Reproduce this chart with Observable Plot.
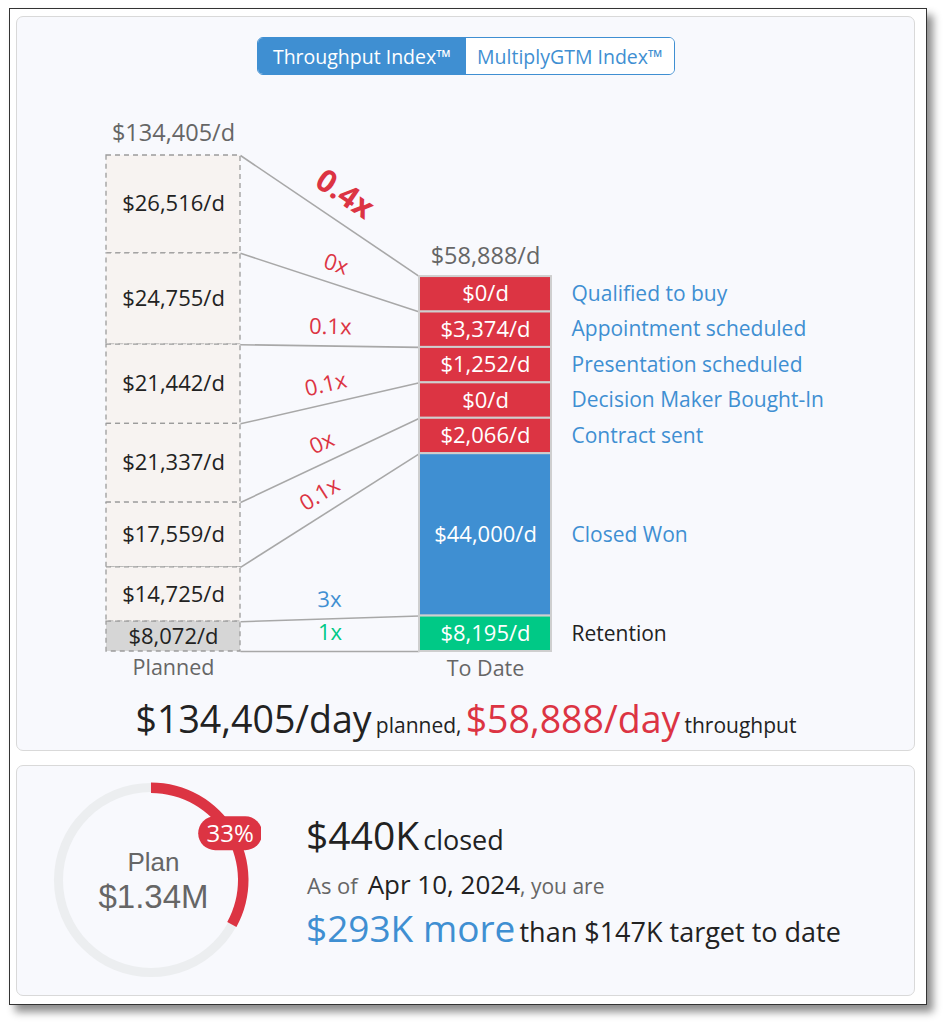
<!DOCTYPE html>
<html><head><meta charset="utf-8">
<script src="https://cdn.jsdelivr.net/npm/d3@7"></script>
<script src="https://cdn.jsdelivr.net/npm/@observablehq/plot@0.6"></script>
<style>
body{margin:0;background:#fff;font-family:"Open Sans",sans-serif;}
#page{position:relative;width:950px;height:1029px;overflow:hidden;background:#fff;}
#frame{position:absolute;left:9px;top:8px;width:916px;height:995px;border:1px solid #333;background:#fff;box-shadow:6px 7px 8px rgba(0,0,0,0.45);}
.card{position:absolute;left:16px;width:897px;border:1.5px solid #d9d9d9;border-radius:7px;background:#f8f9fd;}
#toggle{position:absolute;left:257px;top:37px;width:418px;height:38px;display:flex;border:1.5px solid #3f8fd2;border-radius:6px;overflow:hidden;box-sizing:border-box;font-size:19.5px;}
#toggle div{display:flex;align-items:center;justify-content:center;}
#t1{width:208px;background:#3f8fd2;color:#fff;}
#t2{flex:1;background:#fff;color:#3f8fd2;}
.abs{position:absolute;white-space:nowrap;}
#summary{left:16px;width:900px;top:693px;text-align:center;color:#222;}
.big{font-size:37.5px;}
.small{font-size:21px;}
</style></head>
<body><div id="page">
<div id="frame"></div>
<div class="card" style="top:16px;height:733px;"></div>
<div class="card" style="top:765px;height:229px;"></div>
<div id="toggle"><div id="t1"></div><div id="t2"></div></div>
<div id="chart" class="abs" style="left:16px;top:100px;"></div>
<div id="summary" class="abs"></div>
<div id="donut" class="abs" style="left:41px;top:770px;"></div>
<div id="closed" class="abs" style="left:306px;top:808px;color:#222;"></div>
<div id="asof" class="abs" style="left:307px;top:866px;color:#666;"></div>
<div id="ahead" class="abs" style="left:306px;top:902px;color:#222;"></div>
</div>
<script>
// ---------- data ----------
const tabs = ["Throughput Index™", "MultiplyGTM Index™"];
const stages = ["Qualified to buy","Appointment scheduled","Presentation scheduled","Decision Maker Bought-In","Contract sent","Closed Won","Retention"];
const kinds = ["open","open","open","open","open","won","retention"];
const plannedPerDay = [26516,24755,21442,21337,17559,14725,8072];
const toDatePerDay = [0,3374,1252,0,2066,44000,8195];
const ratioLabels = ["0x","0.1x","0.1x","0x","0.1x","3x","1x"];
const plannedTotal = 134405;
const toDateTotal = 58888;
const totalRatioLabel = "0.4x";
const columnTitles = ["Planned","To Date"];
const planAmount = "$1.34M";
const closedAmount = "$440K";
const percentOfPlan = 33;
const asOfDate = "Apr 10, 2024";
const aheadAmount = "$293K";
const targetToDate = "$147K";

// ---------- styles / layout ----------
const FONT = "Open Sans, sans-serif";
const RED = "#dc3443", BLUE = "#3f8fd2", GREEN = "#00c986";
const barFill = {open: RED, won: BLUE, retention: GREEN};
const planFill = {open: "#f7f3f1", won: "#f7f3f1", retention: "#d6d6d6"};
const labelFill = {open: BLUE, won: BLUE, retention: "#222"};
const X = {type: "linear", domain: [0, 445], range: [90, 535]};
const Y = {type: "linear", domain: [0, d3.sum(plannedPerDay)], range: [55, 551]};
const PLAN = [0, 134], DATE = [313, 445];
const MIN_SHOWN = 9600;

document.getElementById("t1").textContent = tabs[0];
document.getElementById("t2").textContent = tabs[1];

const fmt = d3.format(",");
const perDay = v => "$" + fmt(v) + "/d";

// stacks
const pb = [0]; plannedPerDay.forEach(v => pb.push(pb[pb.length-1] + v));
const shown = toDatePerDay.map(v => Math.max(v, MIN_SHOWN));
const tb = [d3.sum(plannedPerDay) - d3.sum(shown)]; shown.forEach(v => tb.push(tb[tb.length-1] + v));

const planRows = stages.map((s,i) => ({stage:s, kind:kinds[i], value:plannedPerDay[i], y1:pb[i], y2:pb[i+1]}));
const dateRows = stages.map((s,i) => ({stage:s, kind:kinds[i], value:toDatePerDay[i], y1:tb[i], y2:tb[i+1]}));
const links = pb.map((p,i) => ({y1:p, y2:tb[i]}));

const sx = Plot.scale({x: X}), sy = Plot.scale({y: Y});
function along(i, d) {
  const x1 = sx.apply(PLAN[1]), y1 = sy.apply(pb[i]), x2 = sx.apply(DATE[0]), y2 = sy.apply(tb[i]);
  const th = Math.atan2(y2 - y1, x2 - x1);
  const mx = (x1 + x2)/2, my = (y1 + y2)/2;
  return {x: sx.invert(mx + d*Math.sin(th)), y: sy.invert(my - d*Math.cos(th)), rotate: th*180/Math.PI};
}
const ratioRows = stages.map((s,i) => ({...along(i+1, 19), label: ratioLabels[i], kind: kinds[i]}));
const totalRow = [{...along(0, 26), label: totalRatioLabel}];

const chart = Plot.plot({
  width: 900, height: 590, margin: 0,
  x: {...X, axis: null}, y: {...Y, axis: null},
  style: {background: "transparent", fontFamily: FONT},
  marks: [
    Plot.rect(planRows, {x1: () => PLAN[0], x2: () => PLAN[1], y1: "y1", y2: "y2",
      fill: d => planFill[d.kind], stroke: "#9c9c9c", strokeWidth: 1.3, strokeDasharray: "5,4"}),
    Plot.link(links, {x1: () => PLAN[1], x2: () => DATE[0], y1: "y1", y2: "y2", stroke: "#a8a8a8", strokeWidth: 1.6}),
    Plot.rect(dateRows, {x1: () => DATE[0], x2: () => DATE[1], y1: "y1", y2: "y2",
      fill: d => barFill[d.kind], stroke: "#cfcfcf", strokeWidth: 2}),
    Plot.text(planRows, {x: () => (PLAN[0]+PLAN[1])/2, y: d => (d.y1+d.y2)/2, text: d => perDay(d.value),
      fill: "#222", fontSize: 22}),
    Plot.text(dateRows, {x: () => (DATE[0]+DATE[1])/2, y: d => (d.y1+d.y2)/2, text: d => perDay(d.value),
      fill: "#fff", fontSize: 22}),
    Plot.text(dateRows, {x: () => DATE[1] + 20, y: d => (d.y1+d.y2)/2, text: "stage", textAnchor: "start",
      fill: d => labelFill[d.kind], fontSize: 21}),
    Plot.text([plannedTotal], {x: () => (PLAN[0]+PLAN[1])/2, y: () => pb[0], dy: -22, text: d => perDay(d), fill: "#666", fontSize: 23.5}),
    Plot.text([toDateTotal], {x: () => (DATE[0]+DATE[1])/2, y: () => tb[0], dy: -20, text: d => perDay(d), fill: "#666", fontSize: 23.5}),
    Plot.text([columnTitles[0]], {x: () => (PLAN[0]+PLAN[1])/2, y: () => pb[7], dy: 17, text: d => d, fill: "#666", fontSize: 21.5}),
    Plot.text([columnTitles[1]], {x: () => (DATE[0]+DATE[1])/2, y: () => tb[7], dy: 18, text: d => d, fill: "#666", fontSize: 21.5}),
    Plot.text(ratioRows, {x: "x", y: "y", rotate: "rotate", text: "label", fill: d => barFill[d.kind], fontSize: 22}),
    Plot.text(totalRow, {x: "x", y: "y", rotate: "rotate", text: "label", fill: RED, fontSize: 31, fontWeight: "bold"})
  ]
});
document.getElementById("chart").append(chart);

document.getElementById("summary").innerHTML =
  `<span class="big">$${fmt(plannedTotal)}/day</span> <span class="small">planned,</span> ` +
  `<span class="big" style="color:${RED}">$${fmt(toDateTotal)}/day</span> <span class="small">throughput</span>`;

// ---------- donut ----------
const donut = Plot.plot({
  width: 220, height: 220, margin: 0,
  style: {background: "transparent", fontFamily: "Liberation Sans, Arial, sans-serif"},
  marks: [
    (index, scales, values, dims) => {
      const cx = dims.width/2, cy = dims.height/2;
      const g = d3.create("svg:g").attr("transform", `translate(${cx},${cy})`);
      const arc = d3.arc();
      g.append("path").attr("d", arc({innerRadius: 88, outerRadius: 97, startAngle: 0, endAngle: 2*Math.PI})).attr("fill", "#eceef0");
      const end = 2*Math.PI*percentOfPlan/100;
      g.append("path").attr("d", arc({innerRadius: 87, outerRadius: 97.5, startAngle: 0, endAngle: end})).attr("fill", RED);
      const a = end/2, r = 92;
      const bx = r*Math.sin(a), by = -r*Math.cos(a);
      g.append("rect").attr("x", bx-32).attr("y", by-17).attr("width", 64).attr("height", 34).attr("rx", 17).attr("fill", RED);
      g.append("text").attr("x", bx).attr("y", by).attr("dy", "0.35em").attr("text-anchor", "middle")
        .attr("fill", "#fff").attr("font-size", 24).attr("font-family", FONT).text(percentOfPlan + "%");
      return g.node();
    },
    Plot.text(["Plan"], {frameAnchor: "middle", dx: 2, dy: -18, text: d => d, fill: "#666", fontSize: 26}),
    Plot.text([planAmount], {frameAnchor: "middle", dx: 2, dy: 17, text: d => d, fill: "#666", fontSize: 33})
  ]
});
document.getElementById("donut").append(donut);

document.getElementById("closed").innerHTML =
  `<span style="font-size:39px">${closedAmount}</span> <span style="font-size:27px">closed</span>`;
document.getElementById("asof").innerHTML =
  `<span style="font-size:22px">As of&nbsp;</span> <span style="font-size:26px;color:#222">${asOfDate}</span><span style="font-size:21px">, you are</span>`;
document.getElementById("ahead").innerHTML =
  `<span style="font-size:37px;color:${BLUE}">${aheadAmount} more</span> <span style="font-size:27px">than ${targetToDate} target to date</span>`;
</script>
</body></html>
